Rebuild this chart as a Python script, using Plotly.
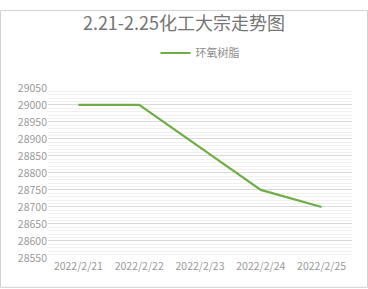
import plotly.graph_objects as go

dates = ["2022/2/21", "2022/2/22", "2022/2/23", "2022/2/24", "2022/2/25"]
epoxy = [29000, 29000, 28875, 28750, 28700]
series_name = "环氧树脂"
title = "2.21-2.25化工大宗走势图"

W, H = 368, 289
L, R, T, B = 48, 16, 81, 31
pw, ph = W - L - R, H - T - B

fig = go.Figure()
fig.add_trace(go.Scatter(
    x=dates, y=epoxy, mode="lines", name=series_name,
    line=dict(color="#70AD47", width=2.2),
))

def px_x(p):
    return (p - L) / pw

def px_y(p):
    return (H - B - p) / ph

fig.update_layout(
    width=W, height=H,
    margin=dict(l=L, r=R, t=T, b=B),
    paper_bgcolor="white", plot_bgcolor="white",
    font=dict(family="Noto Sans CJK SC, Noto Sans, sans-serif", color="#8c8c8c", size=10),
    title=dict(text=title, x=0.5, xanchor="center", y=1 - 24 / H, yanchor="middle",
               font=dict(size=18, color="#757575")),
    showlegend=True,
    legend=dict(orientation="h", x=0.5, xanchor="center", y=1 - 53 / H, yref="container",
                yanchor="middle", font=dict(size=11, color="#8c8c8c"),
                bgcolor="rgba(0,0,0,0)"),
    xaxis=dict(type="category", range=[-0.5, 4.5], showgrid=False, zeroline=False,
               showline=False, ticks="", tickfont=dict(size=10.5, color="#9a9a9a")),
    yaxis=dict(range=[28550, 29050], dtick=50, tickformat="d", showgrid=True,
               gridcolor="#d9d9d9", gridwidth=1, zeroline=False, showline=False, ticks="",
               tickfont=dict(size=10.5, color="#9a9a9a"),
               minor=dict(dtick=10, showgrid=True, gridcolor="#f0f0f0", gridwidth=1)),
    shapes=[dict(type="rect", xref="paper", yref="paper",
                 x0=px_x(0.5), x1=px_x(W - 0.5), y0=px_y(H - 0.5), y1=px_y(0.5),
                 line=dict(color="#d0d0d0", width=1), fillcolor="rgba(0,0,0,0)", layer="below")],
)

fig.write_html("out.html")
